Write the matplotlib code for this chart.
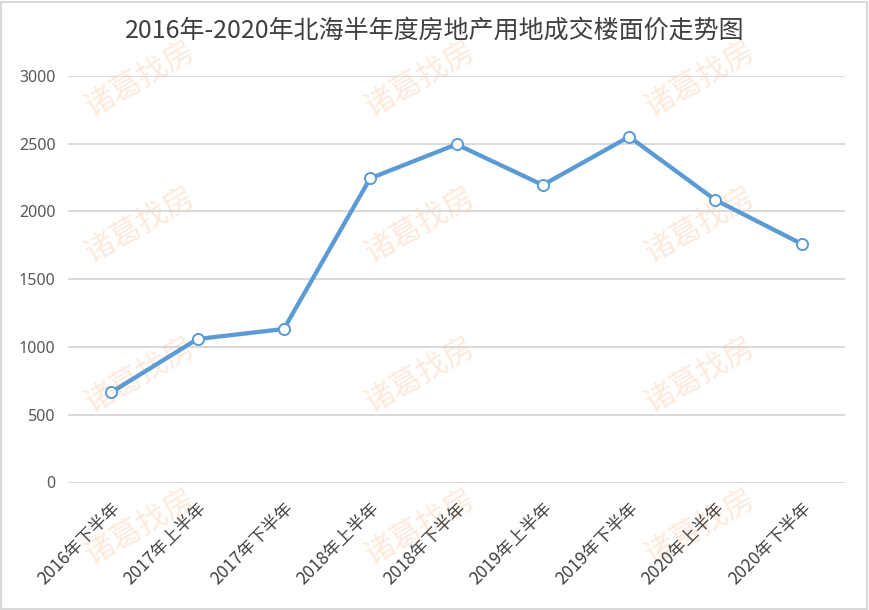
import matplotlib
matplotlib.use("Agg")
import matplotlib.pyplot as plt
from matplotlib.patches import Rectangle

# -----------------------------
# Data
# -----------------------------
periods = ["2016年下半年", "2017年上半年", "2017年下半年", "2018年上半年", "2018年下半年",
           "2019年上半年", "2019年下半年", "2020年上半年", "2020年下半年"]
prices = [665, 1058, 1132, 2243, 2494, 2194, 2550, 2083, 1759]
yticks = [0, 500, 1000, 1500, 2000, 2500, 3000]

title = "2016年-2020年北海半年度房地产用地成交楼面价走势图"
watermark = "诸葛找房"
wm_cols = [140, 420, 700]       # pixel centres
wm_rows = [79, 225, 375, 527]

W, H = 869, 610
plt.rcParams["font.family"] = ["Noto Sans CJK SC", "DejaVu Sans"]

fig = plt.figure(figsize=(W / 100, H / 100), dpi=100)
ax = fig.add_axes([68 / W, 1 - 482.5 / H, (845 - 68) / W, (482.5 - 75.7) / H])
ax.set_facecolor("none")

# watermark grid behind the chart
for cx in wm_cols:
    for cy in wm_rows:
        fig.text(cx / W, 1 - cy / H, watermark, rotation=30, ha="center", va="center",
                 fontsize=22, color="#feeadc", zorder=-1)

x = list(range(len(periods)))
ax.plot(x, prices, color="#5b9bd5", lw=3.1, marker="o", ms=8,
        mfc="white", mec="#5b9bd5", mew=1.4, zorder=3, solid_joinstyle="round")

ax.set_xlim(-0.5, len(periods) - 0.5)
ax.set_ylim(0, 3000)
ax.set_yticks(yticks)
ax.set_yticklabels([str(v) for v in yticks], family=["Noto Sans", "DejaVu Sans"],
                   fontsize=11.5, color="#595959")
ax.set_xticks(x)
ax.set_xticklabels(periods, rotation=45, ha="right", va="top", rotation_mode="anchor",
                   fontsize=12.5, color="#404040")
ax.tick_params(axis="both", length=0)
ax.tick_params(axis="y", pad=9)
ax.tick_params(axis="x", pad=12)

ax.grid(axis="y", color="#d9d9d9", lw=1.4)
ax.set_axisbelow(True)
for s in ax.spines.values():
    s.set_visible(False)

fig.text(0.5, 1 - 31 / H, title, ha="center", va="center", fontsize=18, color="#404040")

# outer chart border
fig.patches.append(Rectangle((1 / W, 1 / H), 1 - 3 / W, 1 - 3 / H, transform=fig.transFigure,
                             fill=False, edgecolor="#d9d9d9", lw=1.5))

fig.savefig("out.png", dpi=100)
